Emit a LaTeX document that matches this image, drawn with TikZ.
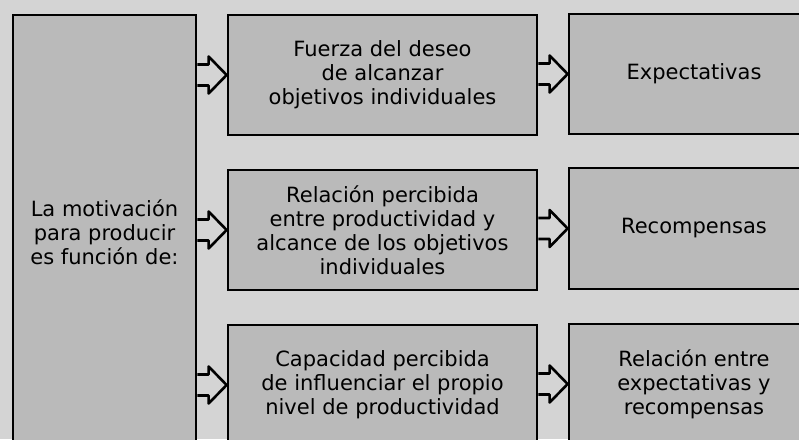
\documentclass[tikz,border=0pt]{standalone}
\usepackage{fontspec}
\setmainfont{DejaVu Sans}
\usetikzlibrary{calc}

% hollow block arrow from a start point to a tip
\newcommand\blockarrow[2]{%
	\draw[arrowbody] ($(#1)+(0,-10.5)$) -- ($(#2)+(-18,-10.5)$) -- ($(#2)+(-18,-18.5)$) -- (#2)
		-- ($(#2)+(-18,18.5)$) -- ($(#2)+(-18,10.5)$) -- ($(#1)+(0,10.5)$);}

\begin{document}
\begin{tikzpicture}[x=1pt, y=-1pt,
	box/.style={draw, line width=2.8pt, fill=black!27, align=center, inner sep=0pt, font=\fontsize{21}{24}\selectfont},
	arrowbody/.style={line width=2.6pt, line join=round}]
	\clip (0,0) rectangle (799,439);
	\fill[black!17] (0,0) rectangle (799,439);
	\node[box, minimum width=183, minimum height=434] (motiv) at (104.5,232) {La motivación\\para producir\\es función de:};
	\node[box, minimum width=309, minimum height=120] (fuerza) at (382.5,75) {Fuerza del deseo\\de alcanzar\\objetivos individuales};
	\node[box, minimum width=309, minimum height=120] (relacion) at (382.5,230) {Relación percibida\\entre productividad y\\alcance de los objetivos\\individuales};
	\node[box, minimum width=309, minimum height=120] (capacidad) at (382.5,385) {Capacidad percibida\\de influenciar el propio\\nivel de productividad};
	\node[box, minimum width=250, minimum height=120] (expect) at (694,74) {Expectativas};
	\node[box, minimum width=250, minimum height=121] (recomp) at (694,228.5) {Recompensas};
	\node[box, minimum width=250, minimum height=120] (relentre) at (694,384) {Relación entre\\expectativas y\\recompensas};
	% arrow starts on the box edges
	\coordinate (a1) at (motiv.east |- fuerza.west);
	\coordinate (a2) at (motiv.east |- relacion.west);
	\coordinate (a3) at (motiv.east |- capacidad.west);
	\coordinate (b1) at (fuerza.east |- expect.west);
	\coordinate (b2) at (relacion.east |- recomp.west);
	\coordinate (b3) at (capacidad.east |- relentre.west);
	\blockarrow{a1}{fuerza.west}
	\blockarrow{a2}{relacion.west}
	\blockarrow{a3}{capacidad.west}
	\blockarrow{b1}{expect.west}
	\blockarrow{b2}{recomp.west}
	\blockarrow{b3}{relentre.west}
\end{tikzpicture}
\end{document}
